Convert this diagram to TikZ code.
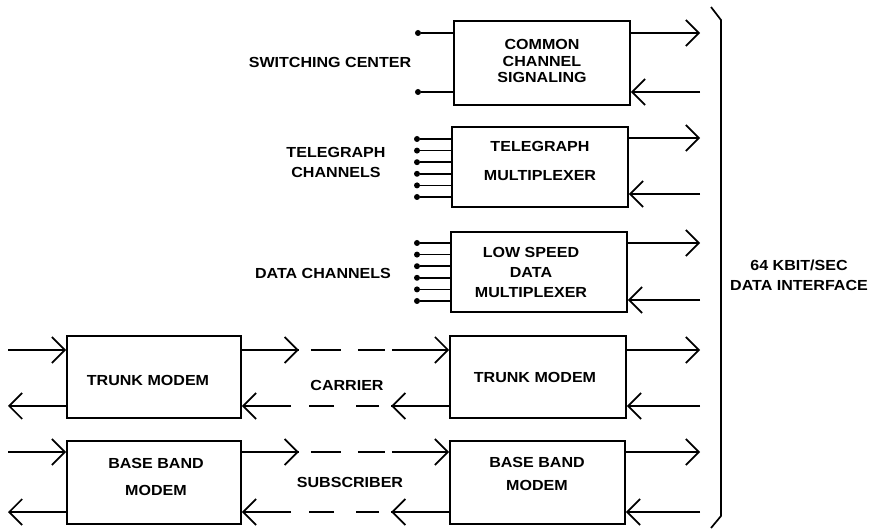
\documentclass[tikz,border=0pt]{standalone}
\usepackage{fontspec}
\newfontfamily\lab[FakeStretch=1.1]{Liberation Sans}
\usetikzlibrary{arrows.meta,decorations.markings}
\tikzset{
  wire/.style={line width=1.7pt},
  barb/.tip={Straight Barb[length=13pt,width=26pt,line width=1.7pt]},
  arr/.style={wire,-barb},
  box/.style={draw,line width=1.7pt,inner sep=0pt},
  txt/.style={font=\lab\bfseries\fontsize{14.6}{17}\selectfont,align=center,inner sep=0pt},
  dot/.style={circle,fill,inner sep=0pt,minimum size=6pt},
  dashL/.style={wire,dash pattern=on 57pt off 12pt on 30pt off 17pt on 27pt off 7pt on 200pt,-barb,
    decoration={markings,mark=at position 57pt with {\arrow{barb}}},postaction={decorate}},
  dashR/.style={wire,dash pattern=on 58pt off 12pt on 23pt off 22pt on 25pt off 18pt on 200pt,-barb,
    decoration={markings,mark=at position 58pt with {\arrow{barb}}},postaction={decorate}}
}
\begin{document}
\begin{tikzpicture}[x=1pt,y=-1pt]
\useasboundingbox (0,0) rectangle (871,529);
% boxes
\node[box,minimum width=176pt,minimum height=84pt] (b1) at (542,63) {};
\node[box,minimum width=176pt,minimum height=80pt] (b2) at (540,167) {};
\node[box,minimum width=176pt,minimum height=80pt] (b3) at (539,272) {};
\node[box,minimum width=174pt,minimum height=82pt] (tmL) at (154,377) {};
\node[box,minimum width=176pt,minimum height=82pt] (tmR) at (538,377) {};
\node[box,minimum width=174pt,minimum height=83pt] (bbL) at (154,482.5) {};
\node[box,minimum width=175pt,minimum height=83pt] (bbR) at (537.5,482.5) {};
% box texts
\node[txt] (t1) at (542,61) {COMMON\\[0pt]CHANNEL\\[-1.5pt]SIGNALING};
\node[txt] (t2) at (540,161) {TELEGRAPH\\[12pt]MULTIPLEXER};
\node[txt] (t3) at (531,272.5) {LOW SPEED\\[3pt]DATA\\[3pt]MULTIPLEXER};
\node[txt] (t4) at (148,380) {TRUNK MODEM};
\node[txt] (t5) at (535,377) {TRUNK MODEM};
\node[txt] (t6) at (156,476.5) {BASE BAND\\[10pt]MODEM};
\node[txt] (t7) at (537,473.5) {BASE BAND\\[6pt]MODEM};
% side labels
\node[txt] (l1) at (330,62) {SWITCHING CENTER};
\node[txt] (l2) at (336,162) {TELEGRAPH\\[3pt]CHANNELS};
\node[txt] (l3) at (323,273) {DATA CHANNELS};
\node[txt] (l4) at (347,385) {CARRIER};
\node[txt] (l5) at (350,482) {SUBSCRIBER};
\node[txt] (l6) at (799,275) {64 KBIT/SEC\\[3pt]DATA INTERFACE};
% interface bracket
\coordinate (k1) at (711,7);
\coordinate (k2) at (721,20);
\coordinate (k3) at (721,516);
\coordinate (k4) at (711,528);
\draw[wire,line join=round] (k1) -- (k2) -- (k3) -- (k4);
% right side free ends
\foreach \n/\yo/\yi in {b1/33/92, b2/138/194, b3/243/300, tmR/350/406, bbR/452/512}{
  \coordinate (\n o) at (700,\yo);
  \coordinate (\n i) at (700,\yi);
  \draw[arr] (\n.east |- \n o) -- (\n o);
  \draw[arr] (\n i) -- (\n.east |- \n i);
}
% switching center inputs
\foreach \y [count=\i] in {33,92}{
  \node[dot] (sc\i) at (418,\y) {};
  \draw[wire] (sc\i) -- (b1.west |- sc\i);
}
% telegraph channels
\foreach \y [count=\i] in {139,150.6,162.2,173.8,185.4,197}{
  \node[dot] (tg\i) at (417,\y) {};
  \draw[wire] (tg\i) -- (b2.west |- tg\i);
}
% data channels
\foreach \y [count=\i] in {243,254.6,266.2,277.8,289.4,301}{
  \node[dot] (dc\i) at (417,\y) {};
  \draw[wire] (dc\i) -- (b3.west |- dc\i);
}
% left free ends
\foreach \n/\yo/\yi in {tmL/350/406, bbL/452/512}{
  \coordinate (\n a) at (8,\yo);
  \coordinate (\n b) at (8,\yi);
  \draw[arr] (\n a) -- (\n.west |- \n a);
  \draw[arr] (\n.west |- \n b) -- (\n b);
}
% dashed links
\draw[dashL] (tmL.east |- tmLa) -- (tmR.west |- tmLa);
\draw[dashR] (tmR.west |- tmLb) -- (tmL.east |- tmLb);
\draw[dashL] (bbL.east |- bbLa) -- (bbR.west |- bbLa);
\draw[dashR] (bbR.west |- bbLb) -- (bbL.east |- bbLb);
\end{tikzpicture}
\end{document}
